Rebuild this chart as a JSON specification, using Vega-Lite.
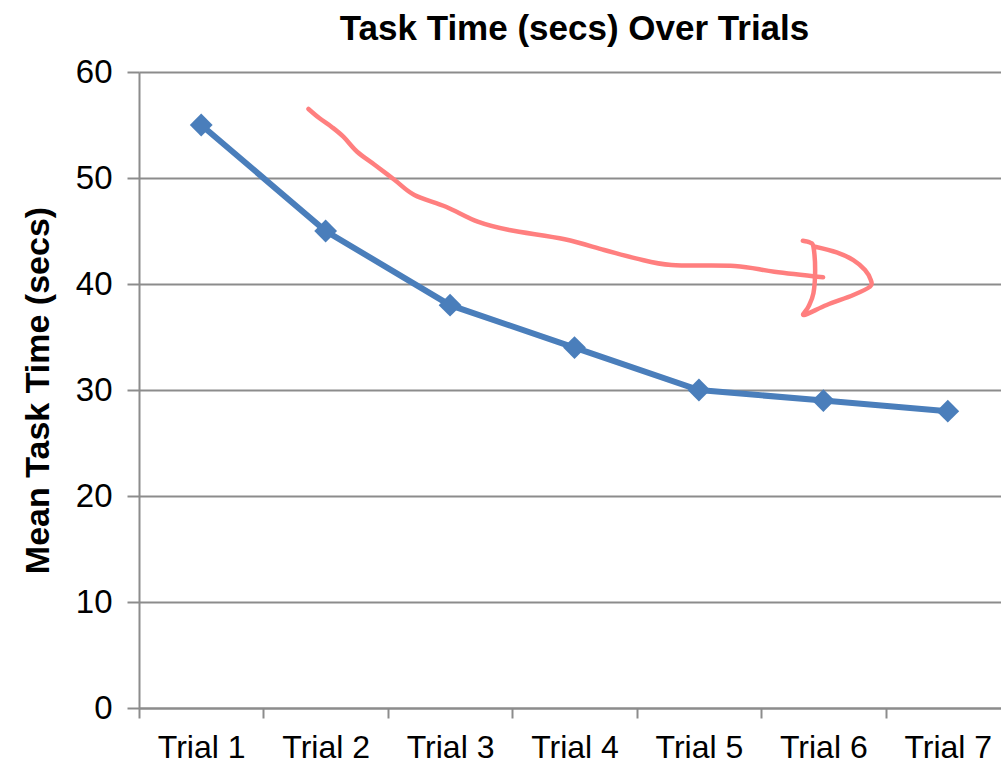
{
  "$schema": "https://vega.github.io/schema/vega-lite/v6.json",
  "width": 871,
  "height": 636,
  "autosize": {"type": "none"},
  "padding": {"left": 139, "top": 72, "right": 0, "bottom": 56},
  "background": "white",
  "title": {
    "text": "Task Time (secs) Over Trials",
    "font": "Liberation Sans",
    "fontSize": 35,
    "fontWeight": "bold",
    "color": "black",
    "anchor": "middle",
    "offset": 9
  },
  "config": {"view": {"stroke": null}, "font": "Liberation Sans"},
  "datasets": {
    "trials": [
      {"trial": "Trial 1", "time": 55},
      {"trial": "Trial 2", "time": 45},
      {"trial": "Trial 3", "time": 38},
      {"trial": "Trial 4", "time": 34},
      {"trial": "Trial 5", "time": 30},
      {"trial": "Trial 6", "time": 29},
      {"trial": "Trial 7", "time": 28}
    ],
    "arrow": [
      {"stroke": "a", "seq": 1, "ax": 1.362, "ay": 56.51},
      {"stroke": "a", "seq": 2, "ax": 1.451, "ay": 55.63},
      {"stroke": "a", "seq": 3, "ax": 1.546, "ay": 54.84},
      {"stroke": "a", "seq": 4, "ax": 1.642, "ay": 53.9},
      {"stroke": "a", "seq": 5, "ax": 1.753, "ay": 52.48},
      {"stroke": "a", "seq": 6, "ax": 1.896, "ay": 51.23},
      {"stroke": "a", "seq": 7, "ax": 2.055, "ay": 49.81},
      {"stroke": "a", "seq": 8, "ax": 2.213, "ay": 48.4},
      {"stroke": "a", "seq": 9, "ax": 2.467, "ay": 47.29},
      {"stroke": "a", "seq": 10, "ax": 2.722, "ay": 45.88},
      {"stroke": "a", "seq": 11, "ax": 2.976, "ay": 45.09},
      {"stroke": "a", "seq": 12, "ax": 3.421, "ay": 44.22},
      {"stroke": "a", "seq": 13, "ax": 3.739, "ay": 43.21},
      {"stroke": "a", "seq": 14, "ax": 3.993, "ay": 42.42},
      {"stroke": "a", "seq": 15, "ax": 4.28, "ay": 41.79},
      {"stroke": "a", "seq": 16, "ax": 4.787, "ay": 41.7},
      {"stroke": "a", "seq": 17, "ax": 5.106, "ay": 41.16},
      {"stroke": "a", "seq": 18, "ax": 5.498, "ay": 40.63},
      {"stroke": "b", "seq": 1, "ax": 5.335, "ay": 44.08},
      {"stroke": "b", "seq": 2, "ax": 5.394, "ay": 43.9},
      {"stroke": "b", "seq": 3, "ax": 5.42, "ay": 43.52},
      {"stroke": "b", "seq": 4, "ax": 5.434, "ay": 41.32},
      {"stroke": "b", "seq": 5, "ax": 5.42, "ay": 39.12},
      {"stroke": "b", "seq": 6, "ax": 5.38, "ay": 37.86},
      {"stroke": "b", "seq": 7, "ax": 5.344, "ay": 37.08},
      {"stroke": "b", "seq": 8, "ax": 5.527, "ay": 38.02},
      {"stroke": "b", "seq": 9, "ax": 5.741, "ay": 38.96},
      {"stroke": "b", "seq": 10, "ax": 5.875, "ay": 39.75},
      {"stroke": "b", "seq": 11, "ax": 5.881, "ay": 40.38},
      {"stroke": "b", "seq": 12, "ax": 5.835, "ay": 41.32},
      {"stroke": "b", "seq": 13, "ax": 5.741, "ay": 42.26},
      {"stroke": "b", "seq": 14, "ax": 5.607, "ay": 42.99},
      {"stroke": "b", "seq": 15, "ax": 5.434, "ay": 43.52}
    ]
  },
  "layer": [
    {
      "data": {"name": "trials"},
      "mark": {
        "type": "line",
        "color": "#4a7ebb",
        "strokeWidth": 6,
        "point": {"shape": "diamond", "size": 520, "filled": true, "color": "#4a7ebb", "opacity": 1}
      },
      "encoding": {
        "x": {
          "field": "trial",
          "type": "nominal",
          "sort": null,
          "scale": {"type": "band", "paddingInner": 0, "paddingOuter": 0},
          "axis": {
            "title": null,
            "labelAngle": 0,
            "labelFont": "Liberation Sans",
            "labelFontSize": 32,
            "labelColor": "black",
            "tickBand": "extent",
            "domainColor": "#8c8c8c",
            "domainWidth": 2,
            "tickColor": "#8c8c8c",
            "tickWidth": 2,
            "tickSize": 10,
            "grid": false,
            "labelPadding": 14
          }
        },
        "y": {
          "field": "time",
          "type": "quantitative",
          "scale": {"domain": [0, 60], "nice": false},
          "axis": {
            "title": "Mean Task Time (secs)",
            "titleFont": "Liberation Sans",
            "titleFontSize": 34,
            "titleFontWeight": "bold",
            "titleColor": "black",
            "titlePadding": 20,
            "values": [0, 10, 20, 30, 40, 50, 60],
            "labelFont": "Liberation Sans",
            "labelFontSize": 33,
            "labelColor": "black",
            "labelPadding": 15,
            "domainColor": "#8c8c8c",
            "domainWidth": 2,
            "tickColor": "#8c8c8c",
            "tickWidth": 2,
            "tickSize": 12,
            "grid": true,
            "gridColor": "#8c8c8c",
            "gridWidth": 2
          }
        }
      }
    },
    {
      "data": {"name": "arrow"},
      "mark": {
        "type": "line",
        "color": "#ff7f7f",
        "strokeWidth": 4.5,
        "interpolate": "cardinal",
        "strokeCap": "round",
        "strokeJoin": "round"
      },
      "encoding": {
        "x": {
          "field": "ax",
          "type": "quantitative",
          "scale": {"domain": [0, 7], "nice": false, "zero": false},
          "axis": null
        },
        "y": {"field": "ay", "type": "quantitative"},
        "detail": {"field": "stroke"},
        "order": {"field": "seq"}
      }
    }
  ],
  "resolve": {"scale": {"x": "independent"}}
}
